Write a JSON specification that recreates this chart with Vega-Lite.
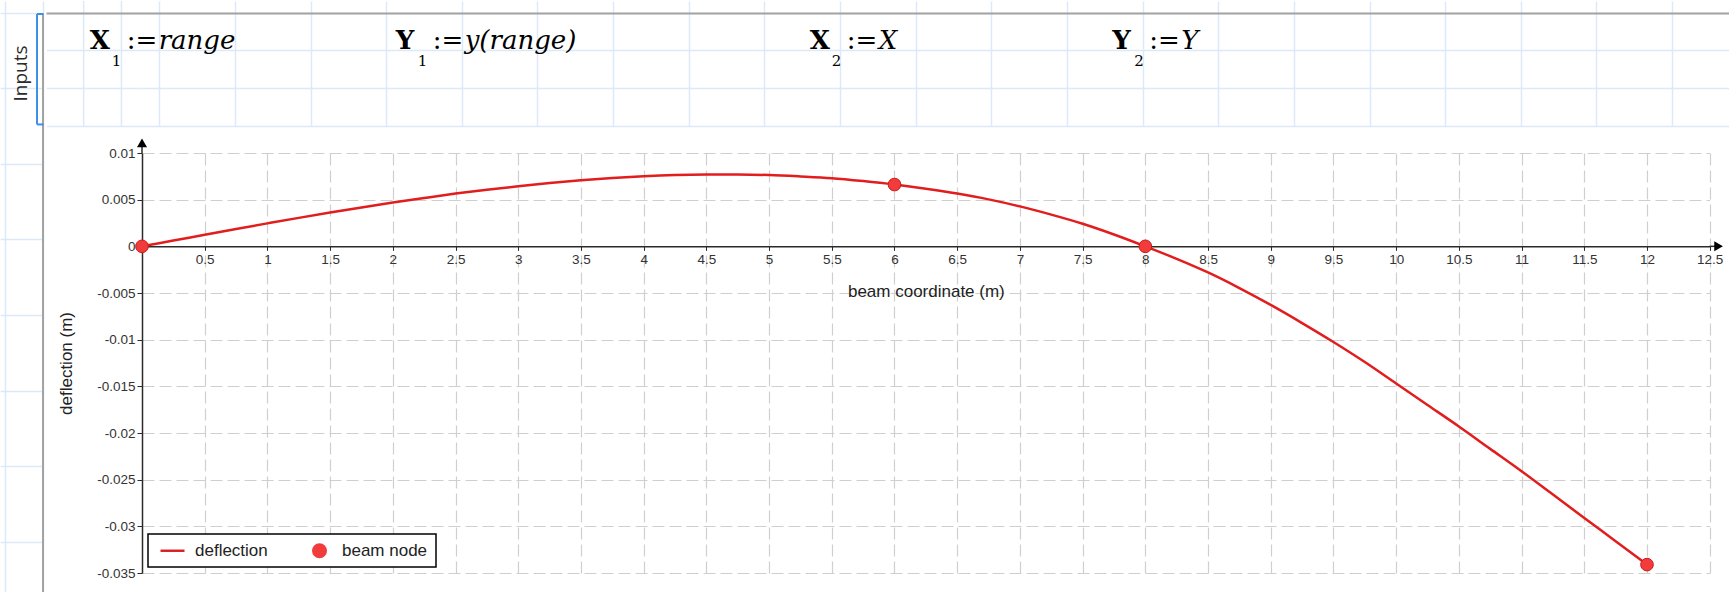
{
  "$schema": "https://vega.github.io/schema/vega-lite/v6.json",
  "background": "white",
  "padding": 0,
  "config": {
    "view": {"stroke": null},
    "font": "Liberation Sans",
    "legend": {"strokeWidth": 1.5}
  },
  "datasets": {
    "deflection": [
      {"x":0,"y":0},{"x":0.25,"y":0.00062},{"x":0.5,"y":0.00124},{"x":0.75,"y":0.00186},{"x":1,"y":0.00246},
      {"x":1.25,"y":0.00305},{"x":1.5,"y":0.00362},{"x":1.75,"y":0.00417},{"x":2,"y":0.00469},{"x":2.25,"y":0.00518},
      {"x":2.5,"y":0.00565},{"x":2.75,"y":0.00606},{"x":3,"y":0.00644},{"x":3.25,"y":0.00678},{"x":3.5,"y":0.00707},
      {"x":3.75,"y":0.00731},{"x":4,"y":0.0075},{"x":4.25,"y":0.00763},{"x":4.5,"y":0.00769},{"x":4.75,"y":0.0077},
      {"x":5,"y":0.00764},{"x":5.25,"y":0.00749},{"x":5.5,"y":0.0073},{"x":5.75,"y":0.00699},{"x":6,"y":0.00662},
      {"x":6.25,"y":0.00617},{"x":6.5,"y":0.00565},{"x":6.75,"y":0.00503},{"x":7,"y":0.00428},{"x":7.25,"y":0.0034},
      {"x":7.5,"y":0.00242},{"x":7.75,"y":0.00127},{"x":8,"y":0},{"x":8.25,"y":-0.00134},{"x":8.5,"y":-0.0028},
      {"x":8.75,"y":-0.00447},{"x":9,"y":-0.00628},{"x":9.25,"y":-0.00822},{"x":9.5,"y":-0.01025},{"x":9.75,"y":-0.0124},
      {"x":10,"y":-0.0147},{"x":10.25,"y":-0.017},{"x":10.5,"y":-0.0193},{"x":10.75,"y":-0.0217},{"x":11,"y":-0.0241},
      {"x":11.25,"y":-0.0266},{"x":11.5,"y":-0.0291},{"x":11.75,"y":-0.0316},{"x":12,"y":-0.0341}
    ],
    "nodes": [
      {"x":0,"y":0,"series":"beam node"},
      {"x":6,"y":0.00662,"series":"beam node"},
      {"x":8,"y":0,"series":"beam node"},
      {"x":12,"y":-0.0341,"series":"beam node"}
    ],
    "equations": [
      {"v":"X","s":"1","e":"range","c":2.16},
      {"v":"Y","s":"1","e":"y(range)","c":10.25},
      {"v":"X","s":"2","e":"X","c":21.2},
      {"v":"Y","s":"2","e":"Y","c":29.2}
    ],
    "one": [{}]
  },
  "resolve": {"scale": {"color": "independent", "shape": "independent"}, "legend": {"color": "independent", "shape": "independent"}},
  "concat": [
    {
      "width": 43.5,
      "height": 592,
      "data": {"name": "one"},
      "layer": [
        {
          "mark": {"type": "rule", "color": "#a3a3a3", "strokeWidth": 2},
          "encoding": {
            "x": {"datum": 1.005, "type": "quantitative",
                  "scale": {"domain": [-0.1322, 1.0181], "nice": false, "zero": false},
                  "axis": {"values": [0, 1], "grid": true, "gridColor": "#dce9f8", "gridWidth": 1.5, "labels": false, "ticks": false, "domain": false, "title": null}},
            "y": {"datum": 0.03, "type": "quantitative",
                  "scale": {"domain": [-0.3041, 15.3491], "nice": false, "zero": false, "reverse": true},
                  "axis": {"values": [0,1,2,3,4,5,6,7,8,9,10,11,12,13,14,15], "grid": true, "gridColor": "#dce9f8", "gridWidth": 1.5, "labels": false, "ticks": false, "domain": false, "title": null}},
            "y2": {"datum": 15.35}
          }
        },
        {
          "mark": {"type": "rule", "color": "#3c8fe8", "strokeWidth": 2},
          "encoding": {
            "x": {"datum": 0.847, "type": "quantitative", "scale": {"domain": [-0.1322, 1.0181], "nice": false, "zero": false}},
            "y": {"datum": 0.04, "type": "quantitative", "scale": {"domain": [-0.3041, 15.3491], "nice": false, "zero": false, "reverse": true}},
            "y2": {"datum": 2.96}
          }
        },
        {
          "mark": {"type": "rule", "color": "#3c8fe8", "strokeWidth": 2},
          "encoding": {
            "x": {"datum": 0.847, "type": "quantitative", "scale": {"domain": [-0.1322, 1.0181], "nice": false, "zero": false}},
            "x2": {"datum": 1.02},
            "y": {"datum": 0.04, "type": "quantitative", "scale": {"domain": [-0.3041, 15.3491], "nice": false, "zero": false, "reverse": true}}
          }
        },
        {
          "mark": {"type": "rule", "color": "#3c8fe8", "strokeWidth": 2},
          "encoding": {
            "x": {"datum": 0.847, "type": "quantitative", "scale": {"domain": [-0.1322, 1.0181], "nice": false, "zero": false}},
            "x2": {"datum": 1.02},
            "y": {"datum": 2.96, "type": "quantitative", "scale": {"domain": [-0.3041, 15.3491], "nice": false, "zero": false, "reverse": true}}
          }
        },
        {
          "mark": {"type": "text", "angle": 270, "font": "Open Sans", "fontSize": 19, "color": "#2b2b2b", "align": "center", "baseline": "middle"},
          "encoding": {
            "x": {"datum": 0.423, "type": "quantitative", "scale": {"domain": [-0.1322, 1.0181], "nice": false, "zero": false}},
            "y": {"datum": 1.613, "type": "quantitative", "scale": {"domain": [-0.3041, 15.3491], "nice": false, "zero": false, "reverse": true}},
            "text": {"value": "Inputs"}
          }
        }
      ]
    },
    {
      "resolve": {"scale": {"color": "independent", "shape": "independent"}, "legend": {"color": "independent", "shape": "independent"}},
      "concat": [
        {
          "width": 1590,
          "height": 125,
          "layer": [
            {
              "data": {"name": "one"},
              "mark": {"type": "rule", "color": "#dce9f8", "strokeWidth": 1.5},
              "encoding": {
                "x": {"datum": 2, "type": "quantitative",
                      "scale": {"domain": [3.5431, 45.5843], "nice": false, "zero": false},
                      "axis": {"values": [4,5,6,7,8,9,10,11,12,13,14,15,16,17,18,19,20,21,22,23,24,25,26,27,28,29,30,31,32,33,34,35,36,37,38,39,40,41,42,43,44,45], "grid": true, "gridColor": "#dce9f8", "gridWidth": 1.5, "labels": false, "ticks": false, "domain": false, "title": null}},
                "y": {"datum": -0.3041, "type": "quantitative",
                      "scale": {"domain": [-0.3041, 3.0011], "nice": false, "zero": false, "reverse": true},
                      "axis": {"values": [0, 1, 2, 3], "grid": true, "gridColor": "#dce9f8", "gridWidth": 1.5, "labels": false, "ticks": true, "tickSize": 95.5, "tickColor": "#dce9f8", "tickWidth": 1.5, "domain": false, "title": null}},
                "y2": {"datum": 3.0011}
              }
            },
            {
              "data": {"name": "one"},
              "mark": {"type": "rule", "color": "#dce9f8", "strokeWidth": 1.5},
              "encoding": {
                "x": {"datum": 3, "type": "quantitative", "scale": {"domain": [3.5431, 45.5843], "nice": false, "zero": false}},
                "y": {"datum": -0.3041, "type": "quantitative", "scale": {"domain": [-0.3041, 3.0011], "nice": false, "zero": false, "reverse": true}},
                "y2": {"datum": 3.0011}
              }
            },
            {
              "data": {"name": "one"},
              "mark": {"type": "rule", "color": "#a3a3a3", "strokeWidth": 2},
              "encoding": {
                "x": {"datum": 1.0181, "type": "quantitative", "scale": {"domain": [3.5431, 45.5843], "nice": false, "zero": false}},
                "x2": {"datum": 45.5843},
                "y": {"datum": 0.026, "type": "quantitative", "scale": {"domain": [-0.3041, 3.0011], "nice": false, "zero": false, "reverse": true}}
              }
            },
            {
              "data": {"name": "equations"},
              "mark": {"type": "text", "font": "DejaVu Serif", "fontWeight": "bold", "fontSize": 26, "align": "left", "baseline": "alphabetic", "color": "#000"},
              "encoding": {
                "x": {"field": "c", "type": "quantitative", "scale": {"domain": [3.5431, 45.5843], "nice": false, "zero": false}},
                "y": {"datum": 0.97, "type": "quantitative", "scale": {"domain": [-0.3041, 3.0011], "nice": false, "zero": false, "reverse": true}},
                "text": {"field": "v"}
              }
            },
            {
              "data": {"name": "equations"},
              "mark": {"type": "text", "font": "DejaVu Serif", "fontSize": 15, "align": "left", "baseline": "alphabetic", "dx": 22, "dy": 17, "color": "#000"},
              "encoding": {
                "x": {"field": "c", "type": "quantitative", "scale": {"domain": [3.5431, 45.5843], "nice": false, "zero": false}},
                "y": {"datum": 0.97, "type": "quantitative", "scale": {"domain": [-0.3041, 3.0011], "nice": false, "zero": false, "reverse": true}},
                "text": {"field": "s"}
              }
            },
            {
              "data": {"name": "equations"},
              "mark": {"type": "text", "font": "DejaVu Serif", "fontSize": 26, "align": "left", "baseline": "alphabetic", "dx": 37, "color": "#000"},
              "encoding": {
                "x": {"field": "c", "type": "quantitative", "scale": {"domain": [3.5431, 45.5843], "nice": false, "zero": false}},
                "y": {"datum": 0.97, "type": "quantitative", "scale": {"domain": [-0.3041, 3.0011], "nice": false, "zero": false, "reverse": true}},
                "text": {"value": ":="}
              }
            },
            {
              "data": {"name": "equations"},
              "mark": {"type": "text", "font": "DejaVu Serif", "fontStyle": "italic", "fontSize": 26, "align": "left", "baseline": "alphabetic", "dx": 69, "color": "#000"},
              "encoding": {
                "x": {"field": "c", "type": "quantitative", "scale": {"domain": [3.5431, 45.5843], "nice": false, "zero": false}},
                "y": {"datum": 0.97, "type": "quantitative", "scale": {"domain": [-0.3041, 3.0011], "nice": false, "zero": false, "reverse": true}},
                "text": {"field": "e"}
              }
            }
          ]
        },
        {
          "width": 1567.7,
          "height": 420,
          "layer": [
            {
              "data": {"name": "deflection"},
              "mark": {"type": "line", "interpolate": "monotone", "color": "#e11d1d", "strokeWidth": 2.5},
              "encoding": {
                "x": {"field": "x", "type": "quantitative",
                      "scale": {"domain": [0, 12.5], "nice": false, "zero": false},
                      "axis": {"orient": "bottom", "offset": -326.67,
                               "values": [0.5,1,1.5,2,2.5,3,3.5,4,4.5,5,5.5,6,6.5,7,7.5,8,8.5,9,9.5,10,10.5,11,11.5,12,12.5],
                               "format": "~g",
                               "domainColor": "#2b2b2b", "domainWidth": 1.5, "tickColor": "#2b2b2b", "tickSize": 4, "tickWidth": 1,
                               "labelFont": "Liberation Sans", "labelFontSize": 13.5, "labelColor": "#333333", "labelPadding": 2,
                               "labelFlush": false, "labelOverlap": false,
                               "grid": true, "gridColor": "#cfcfcf", "gridDash": [12, 5], "gridWidth": 1.2,
                               "title": "beam coordinate (m)", "titleFont": "Liberation Sans", "titleFontSize": 17,
                               "titleFontWeight": "normal", "titleColor": "#222222", "titlePadding": 18}},
                "y": {"field": "y", "type": "quantitative",
                      "scale": {"domain": [-0.035, 0.01], "nice": false, "zero": false},
                      "axis": {"values": [-0.035,-0.03,-0.025,-0.02,-0.015,-0.01,-0.005,0,0.005,0.01],
                               "labelExpr": "datum.value < 0 ? '-' + format(-datum.value, '~g') : format(datum.value, '~g')",
                               "domainColor": "#2b2b2b", "domainWidth": 1.5, "tickColor": "#2b2b2b", "tickSize": 5, "tickWidth": 1,
                               "labelFont": "Liberation Sans", "labelFontSize": 13.5, "labelColor": "#333333", "labelPadding": 2,
                               "labelFlush": false, "labelOverlap": false,
                               "grid": true, "gridColor": "#cfcfcf", "gridDash": [12, 5], "gridWidth": 1.2,
                               "title": "deflection (m)", "titleFont": "Liberation Sans", "titleFontSize": 17,
                               "titleFontWeight": "normal", "titleColor": "#222222",
                               "titleX": -76, "titleY": 210, "titleAngle": 270, "titleAlign": "center", "titleBaseline": "middle",
                               "minExtent": 95.5, "maxExtent": 95.5}}
              }
            },
            {
              "data": {"name": "one"},
              "mark": {"type": "rule", "color": "#2b2b2b", "strokeWidth": 1.5},
              "encoding": {
                "x": {"datum": 12.5, "type": "quantitative", "scale": {"domain": [0, 12.5], "nice": false, "zero": false}},
                "x2": {"datum": 12.571},
                "y": {"datum": 0, "type": "quantitative", "scale": {"domain": [-0.035, 0.01], "nice": false, "zero": false}}
              }
            },
            {
              "data": {"name": "one"},
              "mark": {"type": "rule", "color": "#2b2b2b", "strokeWidth": 1.5},
              "encoding": {
                "x": {"datum": 0, "type": "quantitative", "scale": {"domain": [0, 12.5], "nice": false, "zero": false}},
                "y": {"datum": 0.01, "type": "quantitative", "scale": {"domain": [-0.035, 0.01], "nice": false, "zero": false}},
                "y2": {"datum": 0.01108}
              }
            },
            {
              "data": {"name": "one"},
              "mark": {"type": "point", "shape": "triangle-right", "filled": true, "color": "#000000", "size": 100, "opacity": 1},
              "encoding": {
                "x": {"datum": 12.571, "type": "quantitative", "scale": {"domain": [0, 12.5], "nice": false, "zero": false}},
                "y": {"datum": 0, "type": "quantitative", "scale": {"domain": [-0.035, 0.01], "nice": false, "zero": false}}
              }
            },
            {
              "data": {"name": "one"},
              "mark": {"type": "point", "shape": "triangle-up", "filled": true, "color": "#000000", "size": 100, "opacity": 1},
              "encoding": {
                "x": {"datum": 0, "type": "quantitative", "scale": {"domain": [0, 12.5], "nice": false, "zero": false}},
                "y": {"datum": 0.01108, "type": "quantitative", "scale": {"domain": [-0.035, 0.01], "nice": false, "zero": false}}
              }
            },
            {
              "data": {"name": "nodes"},
              "mark": {"type": "point", "filled": true, "size": 160, "opacity": 1, "stroke": "#cc1a1a", "strokeWidth": 1},
              "encoding": {
                "x": {"field": "x", "type": "quantitative", "scale": {"domain": [0, 12.5], "nice": false, "zero": false}},
                "y": {"field": "y", "type": "quantitative", "scale": {"domain": [-0.035, 0.01], "nice": false, "zero": false}},
                "color": {"field": "series", "type": "nominal",
                          "scale": {"domain": ["deflection", "beam node"], "range": ["#d91c1c", "#f23c3c"]},
                          "legend": {"orient": "bottom-left", "offset": 6, "direction": "horizontal", "title": null,
                                     "labelFont": "Liberation Sans", "labelFontSize": 17, "labelColor": "#222222",
                                     "strokeColor": "#000000", "fillColor": "white", "padding": 8,
                                     "symbolSize": 225, "symbolOffset": 8, "labelOffset": 14, "columnPadding": 35,
                                     "symbolStrokeWidth": 0}},
                "shape": {"field": "series", "type": "nominal",
                          "scale": {"domain": ["deflection", "beam node"], "range": ["M-1.6,-0.16H1.6V0.16H-1.6Z", "circle"]},
                          "legend": {"orient": "bottom-left", "offset": 6, "direction": "horizontal", "title": null,
                                     "labelFont": "Liberation Sans", "labelFontSize": 17, "labelColor": "#222222",
                                     "strokeColor": "#000000", "fillColor": "white", "padding": 8,
                                     "symbolSize": 225, "symbolOffset": 8, "labelOffset": 14, "columnPadding": 35,
                                     "symbolStrokeWidth": 0}}
              }
            }
          ]
        }
      ],
      "columns": 1,
      "spacing": 11,
      "align": "none",
      "bounds": "full"
    }
  ],
  "columns": 2,
  "spacing": 0,
  "align": "none",
  "bounds": "full"
}
